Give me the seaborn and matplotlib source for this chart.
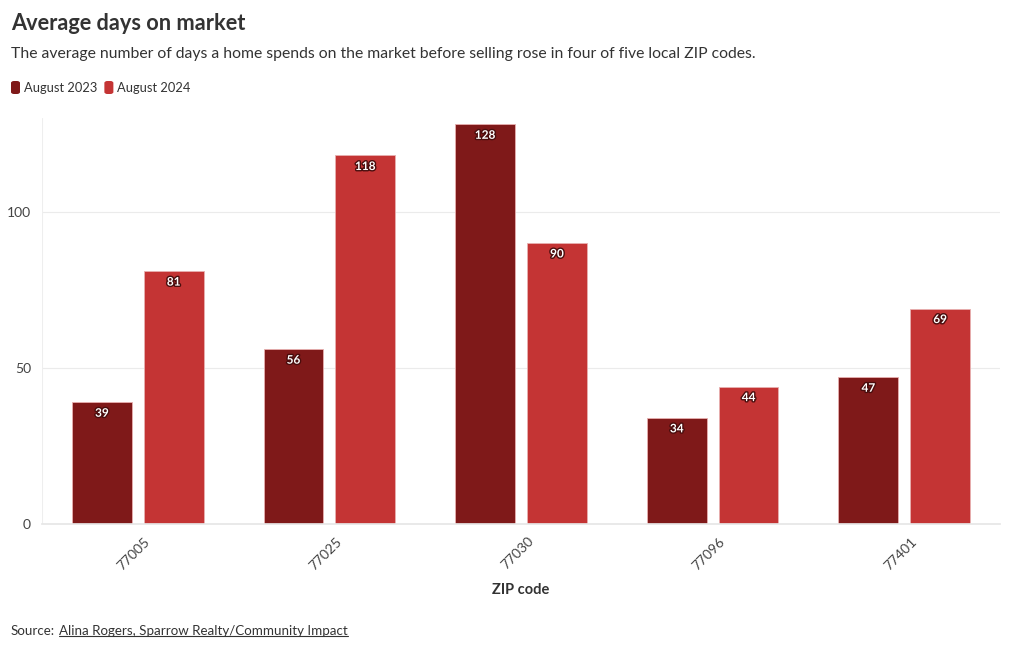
import matplotlib
matplotlib.use("Agg")
import matplotlib.pyplot as plt
import matplotlib.patheffects as pe
import matplotlib.transforms as mtrans
from matplotlib.patches import FancyBboxPatch
import seaborn as sns
import pandas as pd

zips = ["77005", "77025", "77030", "77096", "77401"]
aug_2023 = [39, 56, 128, 34, 47]
aug_2024 = [81, 118, 90, 44, 69]
series_names = ["August 2023", "August 2024"]
colors = ["#7f1919", "#c43434"]

df = pd.DataFrame({
    "zip": zips * 2,
    "days": aug_2023 + aug_2024,
    "period": [series_names[0]] * len(zips) + [series_names[1]] * len(zips),
})

sns.set_theme(style="white")
plt.rcParams["font.family"] = ["Lato", "DejaVu Sans"]

fig = plt.figure(figsize=(10.2, 6.5), dpi=100)
ax = fig.add_axes([42 / 1020, 1 - 524 / 650, 958 / 1020, (524 - 118) / 650])

sns.barplot(data=df, x="zip", y="days", hue="period", palette=colors,
            width=0.75, gap=0.167, ax=ax, legend=False,
            edgecolor="#e8b0b0", linewidth=0.6, saturation=1)

ax.set_xlim(-0.5, 4.5)
ax.set_ylim(0, 130)
ax.set_yticks([0, 50, 100])
ax.yaxis.grid(True, color="#ebebeb", linewidth=0.8)
ax.set_axisbelow(True)
for s in ["top", "right", "left"]:
    ax.spines[s].set_visible(False)
ax.spines["bottom"].set_color("#e6e6e6")
ax.axvline(-0.5, color="#eeeeee", linewidth=0.8)
ax.tick_params(axis="y", labelsize=10, colors="#444444", length=0, pad=8)
ax.tick_params(axis="x", labelsize=10, colors="#444444", length=0, pad=8)
off = mtrans.ScaledTranslation(6 / 100, 0, fig.dpi_scale_trans)
for lab in ax.get_xticklabels():
    lab.set_rotation(45)
    lab.set_ha("right")
    lab.set_rotation_mode("anchor")
    lab.set_transform(lab.get_transform() + off)
ax.set_ylabel("")
ax.set_xlabel("ZIP code", fontsize=10.5, fontweight="bold", color="#333333", labelpad=8)

for cont in ax.containers:
    for bar in cont:
        h = bar.get_height()
        ax.annotate(f"{int(round(h))}", (bar.get_x() + bar.get_width() / 2, h),
                    xytext=(0, -4), textcoords="offset points",
                    ha="center", va="top", fontsize=8.5, fontweight="bold", color="white",
                    path_effects=[pe.withStroke(linewidth=2, foreground="#4a0d0d")])

fig.text(11 / 1020, 1 - 24 / 650, "Average days on market", fontsize=15.7, fontweight="bold",
         color="#333333", va="center")
fig.text(11 / 1020, 1 - 54 / 650,
         "The average number of days a home spends on the market before selling rose in four of five local ZIP codes.",
         fontsize=11.3, color="#333333", va="center")

lx = 11
for name, col in zip(series_names, colors):
    box = FancyBboxPatch((lx / 1020, 1 - 94 / 650), 9 / 1020, 13 / 650,
                         boxstyle="round,pad=0,rounding_size=0.003",
                         transform=fig.transFigure, facecolor=col, edgecolor="none")
    fig.patches.append(box)
    t = fig.text((lx + 13) / 1020, 1 - 88 / 650, name, fontsize=9.3, color="#333333", va="center")
    fig.canvas.draw()
    bb = t.get_window_extent()
    lx = bb.x1 + 7

s1 = fig.text(11 / 1020, 1 - 631 / 650, "Source:", fontsize=9.6, color="#333333", va="center")
fig.canvas.draw()
b1 = s1.get_window_extent()
src = fig.text((b1.x1 + 4) / 1020, 1 - 631 / 650, "Alina Rogers, Sparrow Realty/Community Impact",
               fontsize=9.6, color="#333333", va="center")
fig.canvas.draw()
bb = src.get_window_extent()
fig.add_artist(plt.Line2D([bb.x0 / 1020, bb.x1 / 1020], [(bb.y0 + 1) / 650] * 2,
                          color="#333333", linewidth=0.8, transform=fig.transFigure))

fig.savefig("out.png", dpi=100)
